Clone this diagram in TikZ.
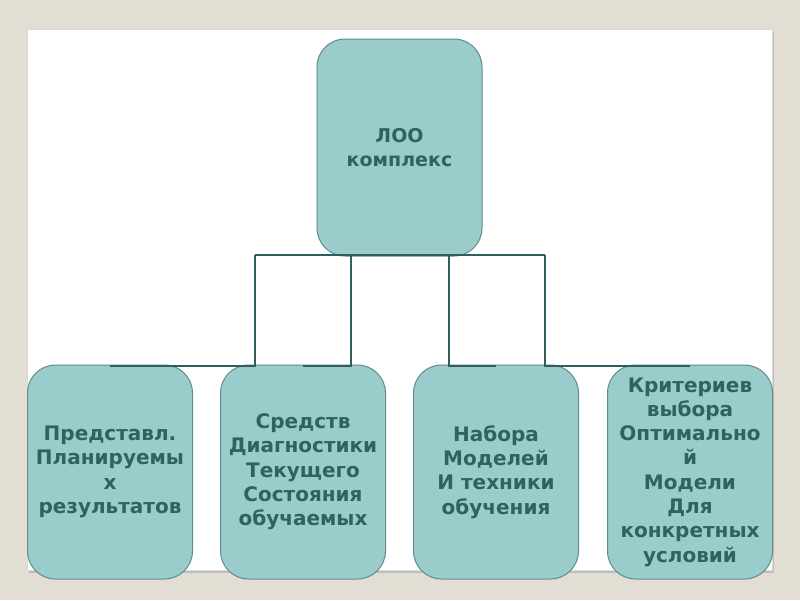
\documentclass[tikz,border=0pt]{standalone}
\usepackage{fontspec}
\setmainfont{DejaVu Sans}
\definecolor{bgbeige}{RGB}{227,222,211}
\definecolor{boxfill}{RGB}{155,204,204}
\definecolor{boxline}{RGB}{95,140,140}
\definecolor{boxtext}{RGB}{48,98,98}
\definecolor{conline}{RGB}{47,94,94}
\begin{document}
\begin{tikzpicture}[x=1pt,y=-1pt,
  boxstyle/.style={draw=boxline, line width=1pt, fill=boxfill, rounded corners=28pt,
    minimum width=165pt, inner sep=0pt, align=center, text=boxtext,
    font=\fontsize{20}{24.3}\selectfont\bfseries},
  conn/.style={draw=conline, line width=2pt}]
\useasboundingbox (0,0) rectangle (800,600);
\fill[bgbeige] (0,0) rectangle (800,600);
% slide
\fill[black!25] (29,32) rectangle (774,573);
\fill[white] (27,29) rectangle (772,570);
\draw[black!15, line width=0.8pt] (27,29) rectangle (772,570);
% nodes
\node[boxstyle, minimum height=217pt, font=\fontsize{19}{24}\selectfont\bfseries] (top) at (399.5,147.5) {ЛОО\\комплекс};
\node[boxstyle, minimum height=214pt] (c1) at (110,472) {Представл.\\Планируемы\\х\\результатов};
\node[boxstyle, minimum height=214pt] (c2) at (303,472) {Средств\\Диагностики\\Текущего\\Состояния\\обучаемых};
\node[boxstyle, minimum height=214pt] (c3) at (496,472) {Набора\\Моделей\\И техники\\обучения};
\node[boxstyle, minimum height=214pt] (c4) at (690,472) {Критериев\\выбора\\Оптимально\\й\\Модели\\Для\\конкретных\\условий};
% connectors
\coordinate (v1) at (255,255);
\coordinate (v2) at (351,255);
\coordinate (v3) at (449,255);
\coordinate (v4) at (545,255);
\draw[conn] (v1) -- (v4);
\draw[conn] (v1) |- ([yshift=-1pt]c1.north);
\draw[conn] (v2) |- ([yshift=-1pt]c2.north);
\draw[conn] (v3) |- ([yshift=-1pt]c3.north);
\draw[conn] (v4) |- ([yshift=-1pt]c4.north);
\end{tikzpicture}
\end{document}
